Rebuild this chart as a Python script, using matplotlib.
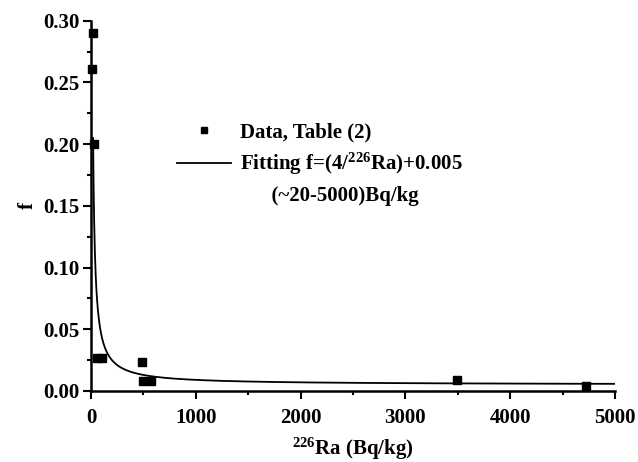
import numpy as np
import matplotlib.pyplot as plt
from matplotlib.ticker import MultipleLocator

plt.rcParams["font.family"] = "Liberation Serif"
plt.rcParams["font.weight"] = "bold"
plt.rcParams["mathtext.fontset"] = "custom"
plt.rcParams["mathtext.rm"] = "Liberation Serif:bold"
plt.rcParams["mathtext.default"] = "rm"

# Data, Table (2)
ra_data = [12, 22, 31, 57, 105, 487, 496, 572, 3492, 4723]
f_data = [0.261, 0.290, 0.200, 0.027, 0.027, 0.0235, 0.008, 0.008, 0.009, 0.0043]

# Fitting f = 4/Ra + 0.005 over ~20-5000 Bq/kg
ra_fit = np.linspace(20, 5000, 2000)
f_fit = 4 / ra_fit + 0.005

fig = plt.figure(figsize=(6.38, 4.62), dpi=100)
ax = fig.add_axes([0.1426, 0.1537, 0.8214, 0.8015])

ax.plot(ra_data, f_data, "s", color="black", markersize=6,
        label="Data, Table (2)", clip_on=False, zorder=3)
ax.plot(ra_fit, f_fit, "-", color="black", linewidth=1.3,
        label="Fitting f=(4/$^{226}$Ra)+0.005")
# second line of the fit label, no handle
ax.plot([], [], linestyle="none", label="      (~20-5000)Bq/kg")

ax.set_xlim(0, 5000)
ax.set_ylim(0, 0.30)
ax.xaxis.set_major_locator(MultipleLocator(1000))
ax.xaxis.set_minor_locator(MultipleLocator(500))
ax.yaxis.set_major_locator(MultipleLocator(0.05))
ax.yaxis.set_minor_locator(MultipleLocator(0.025))
ax.yaxis.set_major_formatter(plt.FormatStrFormatter("%.2f"))

ax.spines["top"].set_visible(False)
ax.spines["right"].set_visible(False)
ax.spines["left"].set_linewidth(1.8)
ax.spines["bottom"].set_linewidth(1.8)
ax.tick_params(axis="both", which="major", direction="out", length=6,
               width=1.5, labelsize=15)
ax.tick_params(axis="x", which="major", pad=6)
ax.tick_params(axis="y", which="major", pad=2)
ax.tick_params(axis="both", which="minor", direction="out", length=3,
               width=1.5)

ax.set_xlabel("$^{226}$Ra (Bq/kg)", fontsize=15, fontweight="bold", labelpad=6)
ax.set_ylabel("f", fontsize=15, fontweight="bold", labelpad=4)

ax.legend(loc="upper left", bbox_to_anchor=(0.129, 0.775), frameon=False,
          fontsize=15, handlelength=2.6, handletextpad=0.4,
          labelspacing=0.4, markerscale=0.8)

fig.savefig("out.png", dpi=100)
